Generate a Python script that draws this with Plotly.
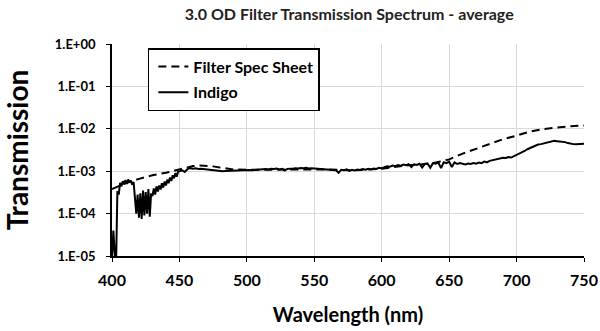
import plotly.graph_objects as go

# Filter Spec Sheet transmission (dashed)
spec_wl = [400, 410, 420, 430, 440, 450, 455, 460, 465, 470, 475, 480, 485, 490,
           500, 520, 540, 560, 580, 600, 620, 630, 640, 650, 660, 670, 680, 690,
           700, 710, 720, 730, 740, 750]
spec_t = [3.8e-4, 5.2e-4, 6.6e-4, 8.0e-4, 9.2e-4, 1.08e-3, 1.22e-3, 1.32e-3, 1.37e-3,
          1.35e-3, 1.30e-3, 1.22e-3, 1.15e-3, 1.10e-3, 1.08e-3, 1.10e-3, 1.12e-3,
          1.10e-3, 1.05e-3, 1.15e-3, 1.38e-3, 1.45e-3, 1.60e-3, 1.90e-3, 2.6e-3,
          3.4e-3, 4.5e-3, 5.7e-3, 6.9e-3, 8.6e-3, 9.9e-3, 1.08e-2, 1.15e-2, 1.2e-2]

# Indigo measured transmission: 1 nm steps 400-450, 2 nm steps 452-750
indigo_wl = list(range(400, 451)) + list(range(452, 751, 2))
indigo_t = [
    8e-6, 4e-5, 1.2e-5, 6e-6, 3.4e-4, 2.8e-4, 5.3e-4, 4.4e-4, 5.8e-4, 4.9e-4,
    6.2e-4, 5.0e-4, 6.4e-4, 5.4e-4, 6.0e-4, 4.8e-4, 5.6e-4, 2.5e-4, 1.0e-4, 2.8e-4,
    8.0e-5, 3.0e-4, 7.5e-5, 3.5e-4, 9.0e-5, 3.2e-4, 1.0e-4, 3.8e-4, 8.5e-5, 3.0e-4,
    2.6e-4, 3.9e-4, 2.8e-4, 4.4e-4, 3.3e-4, 4.6e-4, 3.7e-4, 5.2e-4, 4.1e-4, 5.7e-4,
    4.6e-4, 6.3e-4, 5.2e-4, 7.1e-4, 5.9e-4, 8.0e-4, 6.8e-4, 9.0e-4, 7.4e-4, 9.7e-4,
    1.0e-3,
    # 452-500
    1.05e-3, 9.6e-4, 1.12e-3, 1.18e-3, 1.15e-3, 1.17e-3, 1.13e-3, 1.14e-3, 1.12e-3, 1.10e-3,
    1.07e-3, 1.05e-3, 1.03e-3, 1.01e-3, 1.00e-3, 1.00e-3, 1.01e-3, 1.02e-3, 1.02e-3, 1.03e-3,
    1.03e-3, 1.04e-3, 1.05e-3, 1.05e-3, 1.06e-3,
    # 502-600
    1.07e-3, 1.06e-3, 1.08e-3, 1.09e-3, 1.08e-3, 1.10e-3, 1.12e-3, 1.10e-3, 1.14e-3, 1.13e-3,
    1.15e-3, 1.10e-3, 1.14e-3, 1.03e-3, 1.13e-3, 1.15e-3, 1.14e-3, 1.18e-3, 1.16e-3, 1.19e-3,
    1.17e-3, 1.20e-3, 1.16e-3, 1.18e-3, 1.17e-3, 1.14e-3, 1.16e-3, 1.12e-3, 1.10e-3, 1.13e-3,
    1.08e-3, 1.10e-3, 1.06e-3, 0.92e-3, 1.08e-3, 1.05e-3, 1.10e-3, 1.02e-3, 1.08e-3, 1.04e-3,
    1.10e-3, 1.07e-3, 1.12e-3, 1.08e-3, 1.14e-3, 1.10e-3, 1.16e-3, 1.13e-3, 1.20e-3, 1.18e-3,
    # 602-700
    1.25e-3, 1.30e-3, 1.27e-3, 1.36e-3, 1.31e-3, 1.40e-3, 1.34e-3, 1.44e-3, 1.38e-3, 1.47e-3,
    1.25e-3, 1.45e-3, 1.40e-3, 1.50e-3, 1.22e-3, 1.48e-3, 1.52e-3, 1.20e-3, 1.55e-3, 1.50e-3,
    1.60e-3, 1.18e-3, 1.62e-3, 1.55e-3, 1.68e-3, 1.25e-3, 1.62e-3, 1.48e-3, 1.55e-3, 1.50e-3,
    1.45e-3, 1.52e-3, 1.48e-3, 1.55e-3, 1.50e-3, 1.60e-3, 1.55e-3, 1.68e-3, 1.62e-3, 1.75e-3,
    1.80e-3, 1.88e-3, 1.95e-3, 2.00e-3, 2.08e-3, 2.05e-3, 2.15e-3, 2.10e-3, 2.25e-3, 2.40e-3,
    # 702-750
    2.55e-3, 2.75e-3, 3.00e-3, 3.30e-3, 3.55e-3, 3.80e-3, 4.00e-3, 4.25e-3, 4.35e-3, 4.50e-3,
    4.65e-3, 4.80e-3, 5.00e-3, 5.20e-3, 5.10e-3, 5.05e-3, 5.00e-3, 4.85e-3, 4.60e-3, 4.40e-3,
    4.35e-3, 4.30e-3, 4.40e-3, 4.35e-3, 4.45e-3,
]

x_ticks = [400, 450, 500, 550, 600, 650, 700, 750]
y_ticks = [1e-5, 1e-4, 1e-3, 1e-2, 1e-1, 1]
y_ticktext = ["1.E-05", "1.E-04", "1.E-03", "1.E-02", "1.E-01", "1.E+00"]

FONT = "Lato"

fig = go.Figure()
fig.add_trace(go.Scatter(
    x=spec_wl, y=spec_t, mode="lines", name="Filter Spec Sheet",
    legendgroup="a",
    line=dict(color="black", width=2, dash="8px,5px"),
))
fig.add_trace(go.Scatter(
    x=indigo_wl, y=indigo_t, mode="lines", name="Indigo",
    legendgroup="b",
    line=dict(color="black", width=2),
))

fig.update_layout(
    width=600, height=331,
    margin=dict(l=112, r=16, t=44, b=74.5),
    paper_bgcolor="white", plot_bgcolor="white",
    font=dict(family=FONT, color="black", size=13, weight="bold"),
    title=dict(
        text="3.0 OD Filter Transmission Spectrum - average",
        x=0.582, xanchor="center", y=0.958, yanchor="middle",
        font=dict(family=FONT, size=16, weight="bold", color="#222"),
    ),
    legend=dict(
        x=0.076, y=0.981, xanchor="left", yanchor="top",
        bgcolor="white", bordercolor="black", borderwidth=1.5,
        font=dict(family=FONT, size=16, weight="bold"),
        traceorder="grouped", tracegroupgap=2, indentation=4,
    ),
    xaxis=dict(
        range=[400, 750], tickvals=x_ticks, automargin=False,
        showgrid=True, gridcolor="#d9d9d9", gridwidth=1,
        showline=True, linecolor="black", linewidth=1.8,
        ticks="outside", ticklen=4, tickcolor="black",
        tickfont=dict(family=FONT, size=16, weight="bold"),
        ticklabelstandoff=5,
        title=dict(text="Wavelength (nm)", standoff=20,
                   font=dict(family=FONT, size=20, weight="bold")),
        zeroline=False,
    ),
    yaxis=dict(
        type="log", range=[-5, 0], tickvals=y_ticks, ticktext=y_ticktext,
        automargin=False,
        showgrid=True, gridcolor="#d9d9d9", gridwidth=1,
        showline=True, linecolor="black", linewidth=1.8,
        ticks="outside", ticklen=4, tickcolor="black",
        tickfont=dict(family=FONT, size=13, weight="bold"),
        ticklabelstandoff=8,
        title=dict(text="Transmission", standoff=20,
                   font=dict(family=FONT, size=28, weight="bold")),
        zeroline=False,
    ),
)

fig.write_html("out.html")
